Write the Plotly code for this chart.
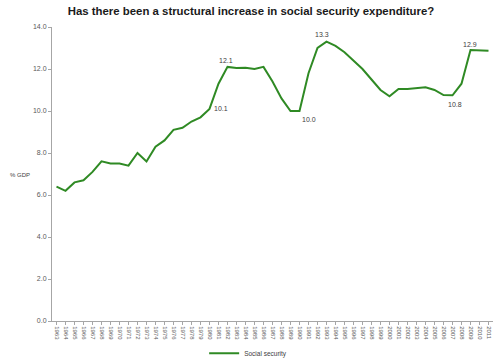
import plotly.graph_objects as go

years = [str(y) for y in range(1963, 2012)]
social_security = [6.4, 6.2, 6.6, 6.7, 7.1, 7.6, 7.5, 7.5, 7.4, 8.0, 7.6, 8.3,
                   8.6, 9.1, 9.2, 9.5, 9.7, 10.1, 11.3, 12.1, 12.05, 12.06, 12.0, 12.1,
                   11.4, 10.6, 10.0, 10.0, 11.8, 13.0, 13.3, 13.1, 12.8, 12.4, 12.0, 11.5,
                   11.0, 10.7, 11.05, 11.05, 11.1, 11.13, 11.0, 10.76, 10.75, 11.3, 12.9, 12.88, 12.87]

label_years = ["1980", "1982", "1990", "1993", "2007", "2009"]
label_text = ["10.1", "12.1", "10.0", "13.3", "10.8", "12.9"]
label_shift = [(11, 0), (-2, 6), (9, -8), (-5, 7), (2, -9), (-1, 6)]

fig = go.Figure()
fig.add_trace(go.Scatter(
    x=years, y=social_security, mode="lines", name="Social security",
    line=dict(color="#2f8a24", width=2),
))

for yr, txt, (dx, dy) in zip(label_years, label_text, label_shift):
    idx = years.index(yr)
    val = social_security[idx]
    fig.add_annotation(x=idx, y=val, xref="x", yref="y", text=txt, showarrow=False,
                       xshift=dx, yshift=dy,
                       font=dict(family="Liberation Sans", size=7, color="#404040"))

fig.update_layout(
    width=500, height=361,
    margin=dict(l=52, r=7, t=27, b=40, autoexpand=False),
    paper_bgcolor="white", plot_bgcolor="white",
    title=dict(text="<b>Has there been a structural increase in social security expenditure?</b>",
               x=0.502, xanchor="center", y=0.97, yanchor="middle",
               font=dict(family="Liberation Sans", size=11.4, color="#1a1a1a")),
    showlegend=True,
    legend=dict(orientation="h", x=0.345, xanchor="left", y=-0.11, yanchor="middle",
                font=dict(family="Liberation Sans", size=6.5, color="#404040"),
                itemwidth=30, bgcolor="rgba(0,0,0,0)"),
    font=dict(family="Liberation Sans"),
    hovermode=False,
)

fig.update_xaxes(
    type="category", range=[-0.5, 48.5], automargin=False,
    showline=True, linecolor="#a6a6a6", linewidth=1,
    ticks="outside", ticklen=3, tickcolor="#a6a6a6",
    tickangle=90, tickfont=dict(size=6, color="#595959"),
    showgrid=False, zeroline=False,
)
fig.update_yaxes(
    range=[0, 14], dtick=2, tickformat=".1f", automargin=False,
    showline=True, linecolor="#a6a6a6", linewidth=1,
    ticks="outside", ticklen=3, tickcolor="#a6a6a6",
    tickfont=dict(size=7, color="#595959"),
    showgrid=False, zeroline=False,
)
fig.add_annotation(text="% GDP", xref="paper", yref="paper", x=-0.1, y=(321 - 175) / 294,
                   xanchor="left", yanchor="middle", showarrow=False,
                   font=dict(family="Liberation Sans", size=6, color="#404040"))

fig.write_html("out.html", config={"displayModeBar": False},
               post_script="document.body.style.margin='0';")
